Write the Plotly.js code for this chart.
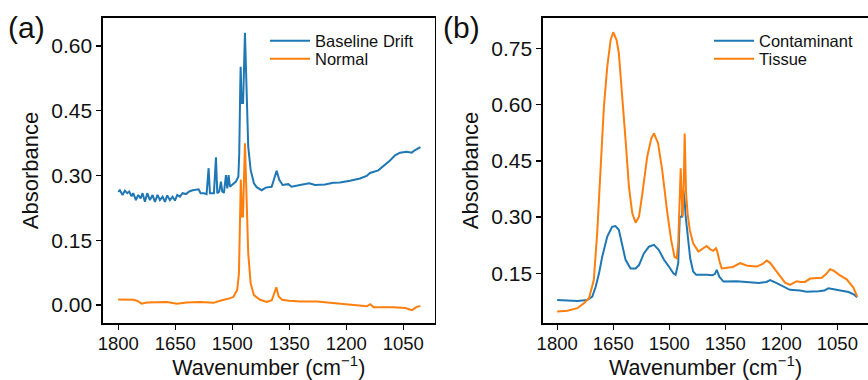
<!DOCTYPE html>
<html>
<head>
<meta charset="utf-8">
<script src="https://cdn.plot.ly/plotly-3.0.1.min.js"></script>
<style>
  html, body { margin: 0; padding: 0; background: #fff; }
  #chart { width: 868px; height: 380px; }
</style>
</head>
<body>
<div id="chart"></div>
<script>
// ---------- Panel (a) ----------
const driftX = [1800,1795.6,1788.6,1782.5,1776.2,1771,1764.8,1760.4,1753.4,1747.3,1741.1,1735.9,1729.7,1723.6,1716.6,1709.6,1703.4,1696.4,1690.3,1683.3,1677.1,1671,1664,1657,1650.8,1644.7,1637.6,1630.6,1621.8,1613,1604.3,1595.5,1588.5,1583.3,1574.5,1567.5,1562.2,1558.7,1551.7,1548.2,1542.9,1539.4,1534.2,1529.8,1526.3,1521.8,1516.6,1513.1,1509.6,1506.1,1500.8,1495.5,1490.3,1484,1481.6,1479,1477.9,1475.5,1471.5,1466.6,1462,1458,1451.6,1443,1435.8,1422.6,1412,1396.4,1389.5,1383.3,1376.3,1367.6,1352.6,1343.9,1321.8,1297.3,1282.4,1256,1234.2,1216.6,1190.3,1164,1146.5,1137.6,1115.8,1098.2,1085,1071.8,1058.7,1041,1027.9,1019,1005];
const driftY = [0.262,0.266,0.255,0.265,0.259,0.263,0.252,0.259,0.243,0.255,0.247,0.259,0.239,0.259,0.243,0.255,0.239,0.255,0.243,0.251,0.239,0.254,0.243,0.251,0.242,0.255,0.251,0.259,0.257,0.263,0.266,0.268,0.268,0.259,0.259,0.257,0.317,0.259,0.259,0.259,0.342,0.259,0.263,0.286,0.263,0.260,0.301,0.270,0.301,0.274,0.278,0.282,0.286,0.297,0.351,0.506,0.552,0.468,0.468,0.631,0.506,0.367,0.313,0.282,0.273,0.266,0.272,0.274,0.293,0.311,0.290,0.278,0.280,0.274,0.278,0.282,0.278,0.279,0.283,0.284,0.288,0.293,0.299,0.306,0.312,0.324,0.335,0.347,0.353,0.355,0.353,0.359,0.366];

const normalX = [1800,1775,1760,1751,1738,1725,1700,1672,1646,1620,1585,1549,1532,1515,1505,1497,1487,1482.4,1480,1477.5,1474.5,1471.8,1466.6,1462,1458,1451.6,1443,1427,1409,1396,1389.5,1384,1378,1369,1350,1321,1277,1233,1189.5,1146,1137,1128,1100,1075,1045,1027,1016,1005];
const normalY = [0.013,0.013,0.012,0.010,0.003,0.006,0.007,0.007,0.003,0.006,0.007,0.005,0.010,0.013,0.016,0.019,0.035,0.073,0.166,0.291,0.205,0.205,0.375,0.243,0.120,0.050,0.023,0.012,0.007,0.011,0.025,0.041,0.020,0.012,0.010,0.008,0.008,0.004,0.000,-0.003,0.002,-0.005,-0.005,-0.005,-0.007,-0.012,-0.005,-0.002];

// ---------- Panel (b) ----------
const contamX = [1800,1773,1746,1719.6,1706,1697,1688,1679.5,1666,1653,1644,1635,1626,1617,1603.6,1590,1581,1568,1554.5,1541,1527.7,1514,1501,1489,1483,1476,1472,1466,1462.5,1459,1456,1450,1444,1436,1428,1400,1385,1378,1373,1366,1355,1320,1290,1260,1240,1230,1215,1200,1177,1150,1132,1100,1085,1074,1060,1040,1020,1005,997];
const contamY = [0.079,0.077,0.076,0.079,0.088,0.114,0.150,0.194,0.248,0.274,0.276,0.266,0.230,0.186,0.163,0.163,0.172,0.203,0.221,0.226,0.212,0.186,0.168,0.150,0.146,0.177,0.301,0.301,0.372,0.346,0.301,0.240,0.190,0.155,0.146,0.146,0.145,0.148,0.159,0.141,0.128,0.129,0.126,0.124,0.127,0.132,0.125,0.117,0.106,0.104,0.101,0.102,0.104,0.110,0.107,0.103,0.100,0.093,0.086];

const tissueX = [1800,1773,1746,1728.6,1715,1702,1693,1684,1675,1666,1657,1650,1641,1635,1626,1617,1608,1599,1590,1581,1572,1559,1548,1541,1530,1519,1505,1495,1486,1480,1476,1472,1469.4,1467,1464,1461,1458.7,1455,1451,1445,1436,1422,1410,1400,1390,1382,1375,1372,1365,1359.6,1345,1330,1310,1290,1266,1250,1239,1230,1215,1203,1190,1177,1159,1148,1136.5,1123,1092,1080,1069.5,1060,1045,1025,1007,997];
const tissueY = [0.048,0.050,0.057,0.070,0.083,0.132,0.257,0.434,0.594,0.701,0.772,0.793,0.772,0.737,0.630,0.506,0.381,0.310,0.285,0.301,0.363,0.461,0.510,0.523,0.497,0.426,0.310,0.239,0.194,0.190,0.230,0.400,0.430,0.360,0.301,0.400,0.523,0.364,0.310,0.265,0.230,0.208,0.215,0.223,0.214,0.210,0.217,0.210,0.180,0.163,0.165,0.167,0.177,0.170,0.168,0.175,0.184,0.178,0.158,0.141,0.125,0.119,0.129,0.127,0.127,0.136,0.138,0.148,0.161,0.157,0.146,0.134,0.112,0.088];

const xTicks = [1800,1650,1500,1350,1200,1050];
const yTicksA = [0, 0.15, 0.30, 0.45, 0.60];
const yTicksB = [0.15, 0.30, 0.45, 0.60, 0.75];

const BLUE = '#1f77b4', ORANGE = '#ff7f0e';
const FONT = 'Liberation Sans, Arial, Helvetica, sans-serif';
const LEGFONT = {family: FONT, size: 16.5, color: '#111'};

const traces = [
  {x: driftX, y: driftY, name: 'Baseline Drift', type: 'scatter', mode: 'lines',
   line: {color: BLUE, width: 2}, xaxis: 'x', yaxis: 'y', legend: 'legend'},
  {x: normalX, y: normalY, name: 'Normal', type: 'scatter', mode: 'lines',
   line: {color: ORANGE, width: 2}, xaxis: 'x', yaxis: 'y', legend: 'legend3'},
  {x: contamX, y: contamY, name: 'Contaminant', type: 'scatter', mode: 'lines',
   line: {color: BLUE, width: 2}, xaxis: 'x2', yaxis: 'y2', legend: 'legend2'},
  {x: tissueX, y: tissueY, name: 'Tissue', type: 'scatter', mode: 'lines',
   line: {color: ORANGE, width: 2}, xaxis: 'x2', yaxis: 'y2', legend: 'legend4'}
];

function xAxis(domain, range, anchor) {
  return {
    domain: domain, range: range, anchor: anchor,
    tickvals: xTicks, ticks: 'outside', ticklen: 5, tickwidth: 1.3, tickcolor: '#000',
    ticklabelstandoff: -2,
    tickfont: {family: FONT, size: 18.5, color: '#111'},
    showline: true, linecolor: '#000', linewidth: 1.6, mirror: true,
    showgrid: false, zeroline: false,
    title: {text: 'Wavenumber (cm<sup>\u22121</sup>)', font: {family: FONT, size: 21.5, color: '#111'}, standoff: 8}
  };
}
function yAxis(domain, range, anchor, tv, mirror) {
  return {
    domain: domain, range: range, anchor: anchor,
    tickvals: tv, tickformat: '.2f', ticks: 'outside', ticklen: 5, tickwidth: 1.3, tickcolor: '#000',
    tickfont: {family: FONT, size: 21, color: '#111'},
    showline: true, linecolor: '#000', linewidth: 1.6, mirror: mirror,
    showgrid: false, zeroline: false,
    title: {text: 'Absorbance', font: {family: FONT, size: 22, color: '#111'}, standoff: 6}
  };
}
function leg(xpx, ypx) {
  return {x: xpx/868, xanchor: 'left', y: 1 - ypx/380, yanchor: 'middle',
          bgcolor: 'rgba(0,0,0,0)', font: LEGFONT, itemwidth: 40};
}

const layout = {
  width: 868, height: 380,
  margin: {l: 0, r: 0, t: 0, b: 0},
  paper_bgcolor: '#fff', plot_bgcolor: '#fff',
  font: {family: FONT, color: '#111'},
  xaxis: xAxis([103/868, 434.5/868], [1840, 968], 'y'),
  yaxis: yAxis([57/380, 362/380], [-0.0417, 0.665], 'x', yTicksA, true),
  xaxis2: xAxis([543/868, 1], [1838, 968], 'y2'),
  yaxis2: yAxis([57/380, 362/380], [0.0175, 0.831], 'x2', yTicksB, false),
  showlegend: true,
  legend: leg(265, 41),
  legend3: leg(265, 59),
  legend2: leg(709, 41),
  legend4: leg(709, 59),
  annotations: [
    {text: '(a)', x: 26/868, y: 1 - 27/380, xref: 'paper', yref: 'paper',
     xanchor: 'center', yanchor: 'middle', showarrow: false, font: {family: FONT, size: 30, color: '#111'}},
    {text: '(b)', x: 461/868, y: 1 - 27/380, xref: 'paper', yref: 'paper',
     xanchor: 'center', yanchor: 'middle', showarrow: false, font: {family: FONT, size: 30, color: '#111'}}
  ]
};

Plotly.newPlot('chart', traces, layout, {staticPlot: true, displayModeBar: false});
</script>
</body>
</html>
